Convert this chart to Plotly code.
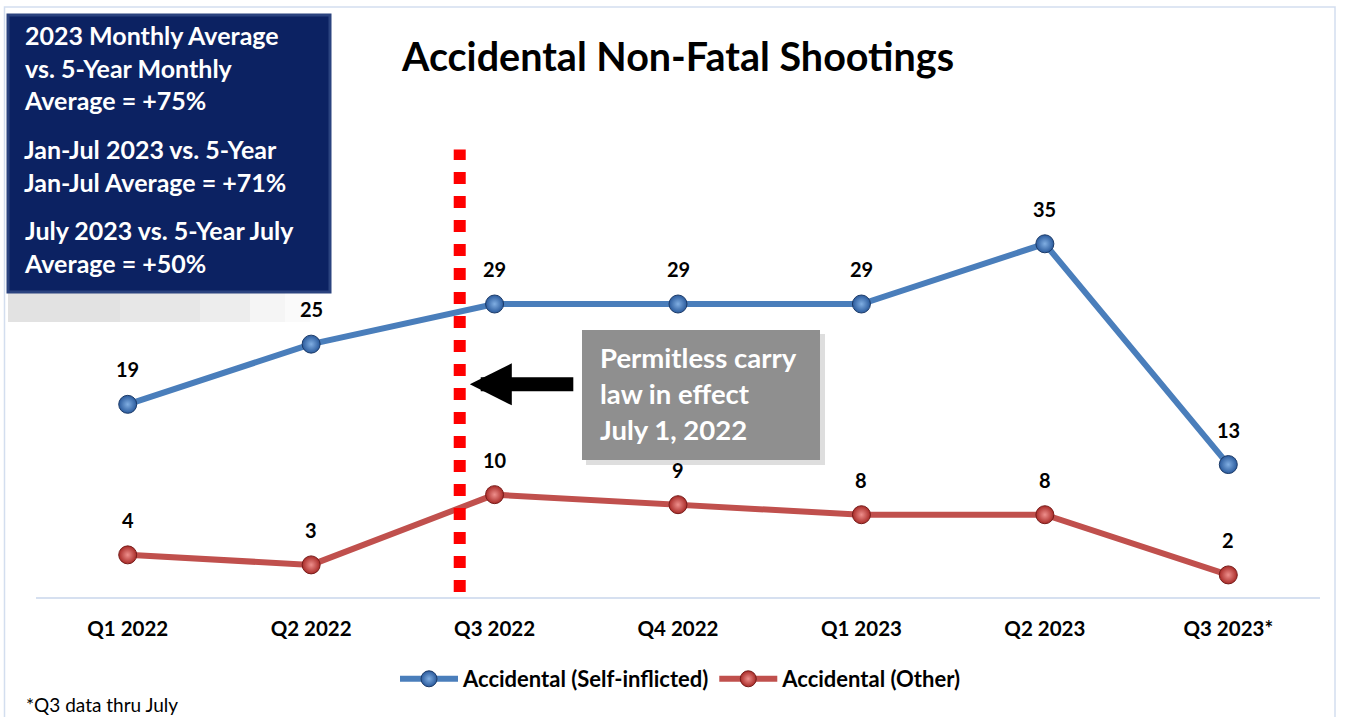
import plotly.graph_objects as go

categories = ["Q1 2022", "Q2 2022", "Q3 2022", "Q4 2022", "Q1 2023", "Q2 2023", "Q3 2023*"]
self_inflicted = [19, 25, 29, 29, 29, 35, 13]
other = [4, 3, 10, 9, 8, 8, 2]
series_names = ["Accidental (Self-inflicted)", "Accidental (Other)"]
title_text = "Accidental Non-Fatal Shootings"
box_paragraphs = [
    "2023 Monthly Average<br>vs. 5-Year Monthly<br>Average = +75%",
    "Jan-Jul 2023 vs. 5-Year<br>Jan-Jul Average = +71%",
    "July 2023 vs. 5-Year July<br>Average = +50%",
]
callout_text = "Permitless carry<br>law in effect<br>July 1, 2022"
footnote = "*Q3 data thru July"

FONT = "Lato, 'Open Sans', sans-serif"
BLUE = "#4a7ebb"
RED = "#c0504d"

# pixel helpers (plot area: x 36..1320, y 10..597)
L, R, T, B = 36, 1320, 10, 597
def px(x):
    return (x - L) / (R - L)
def py(y):
    return (B - y) / (B - T)

fig = go.Figure()

fig.add_trace(go.Scatter(
    x=categories, y=self_inflicted, name=series_names[0],
    mode="lines+markers",
    line=dict(color=BLUE, width=6),
    marker=dict(size=18, color="#2a5a9c", line=dict(color="#1b3a68", width=1),
                gradient=dict(type="radial", color="#80aee2")),
))
fig.add_trace(go.Scatter(
    x=categories, y=other, name=series_names[1],
    mode="lines+markers",
    line=dict(color=RED, width=6),
    marker=dict(size=18, color="#a82a27", line=dict(color="#761b19", width=1),
                gradient=dict(type="radial", color="#ee8f8c")),
))

annotations = []
for cat, v in zip(categories, self_inflicted):
    annotations.append(dict(x=cat, y=v, text=str(v), showarrow=False, yshift=35,
                            font=dict(family=FONT, size=20, color="black", weight="bold")))
for cat, v in zip(categories, other):
    annotations.append(dict(x=cat, y=v, text=str(v), showarrow=False, yshift=35,
                            font=dict(family=FONT, size=20, color="black", weight="bold")))

# Title
annotations.append(dict(xref="paper", yref="paper", x=px(677), y=py(56),
                        text=title_text, showarrow=False, xanchor="center", yanchor="middle",
                        font=dict(family=FONT, size=39.5, color="black", weight="bold")))

# Navy box paragraphs
para_centers = [68, 165.5, 246.5]
for txt, cy in zip(box_paragraphs, para_centers):
    annotations.append(dict(xref="paper", yref="paper", x=px(22), y=py(cy),
                            text=txt, showarrow=False, xanchor="left", yanchor="middle", align="left",
                            font=dict(family=FONT, size=25, color="white", weight="bold")))

# Callout text
annotations.append(dict(xref="paper", yref="paper", x=px(598), y=py(393),
                        text=callout_text, showarrow=False, xanchor="left", yanchor="middle", align="left",
                        font=dict(family=FONT, size=27.5, color="white", weight="bold")))

# Arrow
annotations.append(dict(x=1.865, y=21.0, xref="x", yref="y", ax=105, ay=0, text="",
                        showarrow=True, arrowhead=2, arrowsize=0.6, arrowwidth=14, arrowcolor="black"))

# Footnote
annotations.append(dict(xref="paper", yref="paper", x=px(24), y=py(704),
                        text=footnote, showarrow=False, xanchor="left", yanchor="middle",
                        font=dict(family=FONT, size=19, color="black")))

shapes = [
    # outer frame
    dict(type="rect", xref="paper", yref="paper", x0=px(4.5), x1=px(1335),
         y0=py(760), y1=py(7), line=dict(color="#d3deef", width=1.5), layer="below"),
]
# fading shadow under navy box
shadow_steps = [(8, 120, 0.2), (120, 200, 0.17), (200, 250, 0.12), (250, 285, 0.07), (285, 310, 0.035)]
for x0, x1, a in shadow_steps:
    shapes.append(dict(type="rect", xref="paper", yref="paper", x0=px(x0), x1=px(x1),
                       y0=py(322), y1=py(292), line=dict(width=0),
                       fillcolor=f"rgba(110,110,110,{a})", layer="below"))
shapes += [
    # navy box
    dict(type="rect", xref="paper", yref="paper", x0=px(8), x1=px(330),
         y0=py(292), y1=py(15), line=dict(color="#2b437f", width=3),
         fillcolor="#0c2262", layer="above"),
    # red dotted line
    dict(type="line", xref="x", yref="y", x0=1.81, x1=1.81, y0=0.3, y1=44.4,
         line=dict(color="#ff0000", width=12, dash="12px,12px"), layer="above"),
    # callout shadow
    dict(type="rect", xref="paper", yref="paper", x0=px(586), x1=px(825),
         y0=py(465), y1=py(334), line=dict(width=0),
         fillcolor="rgba(0,0,0,0.13)", layer="above"),
    # grey callout box
    dict(type="rect", xref="paper", yref="paper", x0=px(582), x1=px(820),
         y0=py(460), y1=py(330), line=dict(width=0),
         fillcolor="#8f8f8f", layer="above"),
]

fig.update_layout(
    width=1351, height=717,
    margin=dict(l=L, r=1351 - R, t=T, b=717 - B),
    paper_bgcolor="white", plot_bgcolor="white",
    showlegend=True,
    legend=dict(orientation="h", x=px(681), xanchor="center", y=py(679), yanchor="middle",
                font=dict(family=FONT, size=22, color="black", weight="bold"),
                itemwidth=58, bgcolor="rgba(0,0,0,0)"),
    xaxis=dict(type="category", range=[-0.5, 6.5], showgrid=False, showline=True,
               linecolor="#d6e0f0", linewidth=2,
               ticks="", ticklabelstandoff=12, zeroline=False,
               tickfont=dict(family=FONT, size=20.5, color="black", weight="bold")),
    yaxis=dict(range=[-0.2, 58.3], showgrid=False, showticklabels=False, zeroline=False, showline=False),
    annotations=annotations,
    shapes=shapes,
    font=dict(family=FONT),
)

fig.write_html("out.html", config={"displayModeBar": False},
               post_script="document.body.style.margin='0';document.body.style.overflow='hidden';")
